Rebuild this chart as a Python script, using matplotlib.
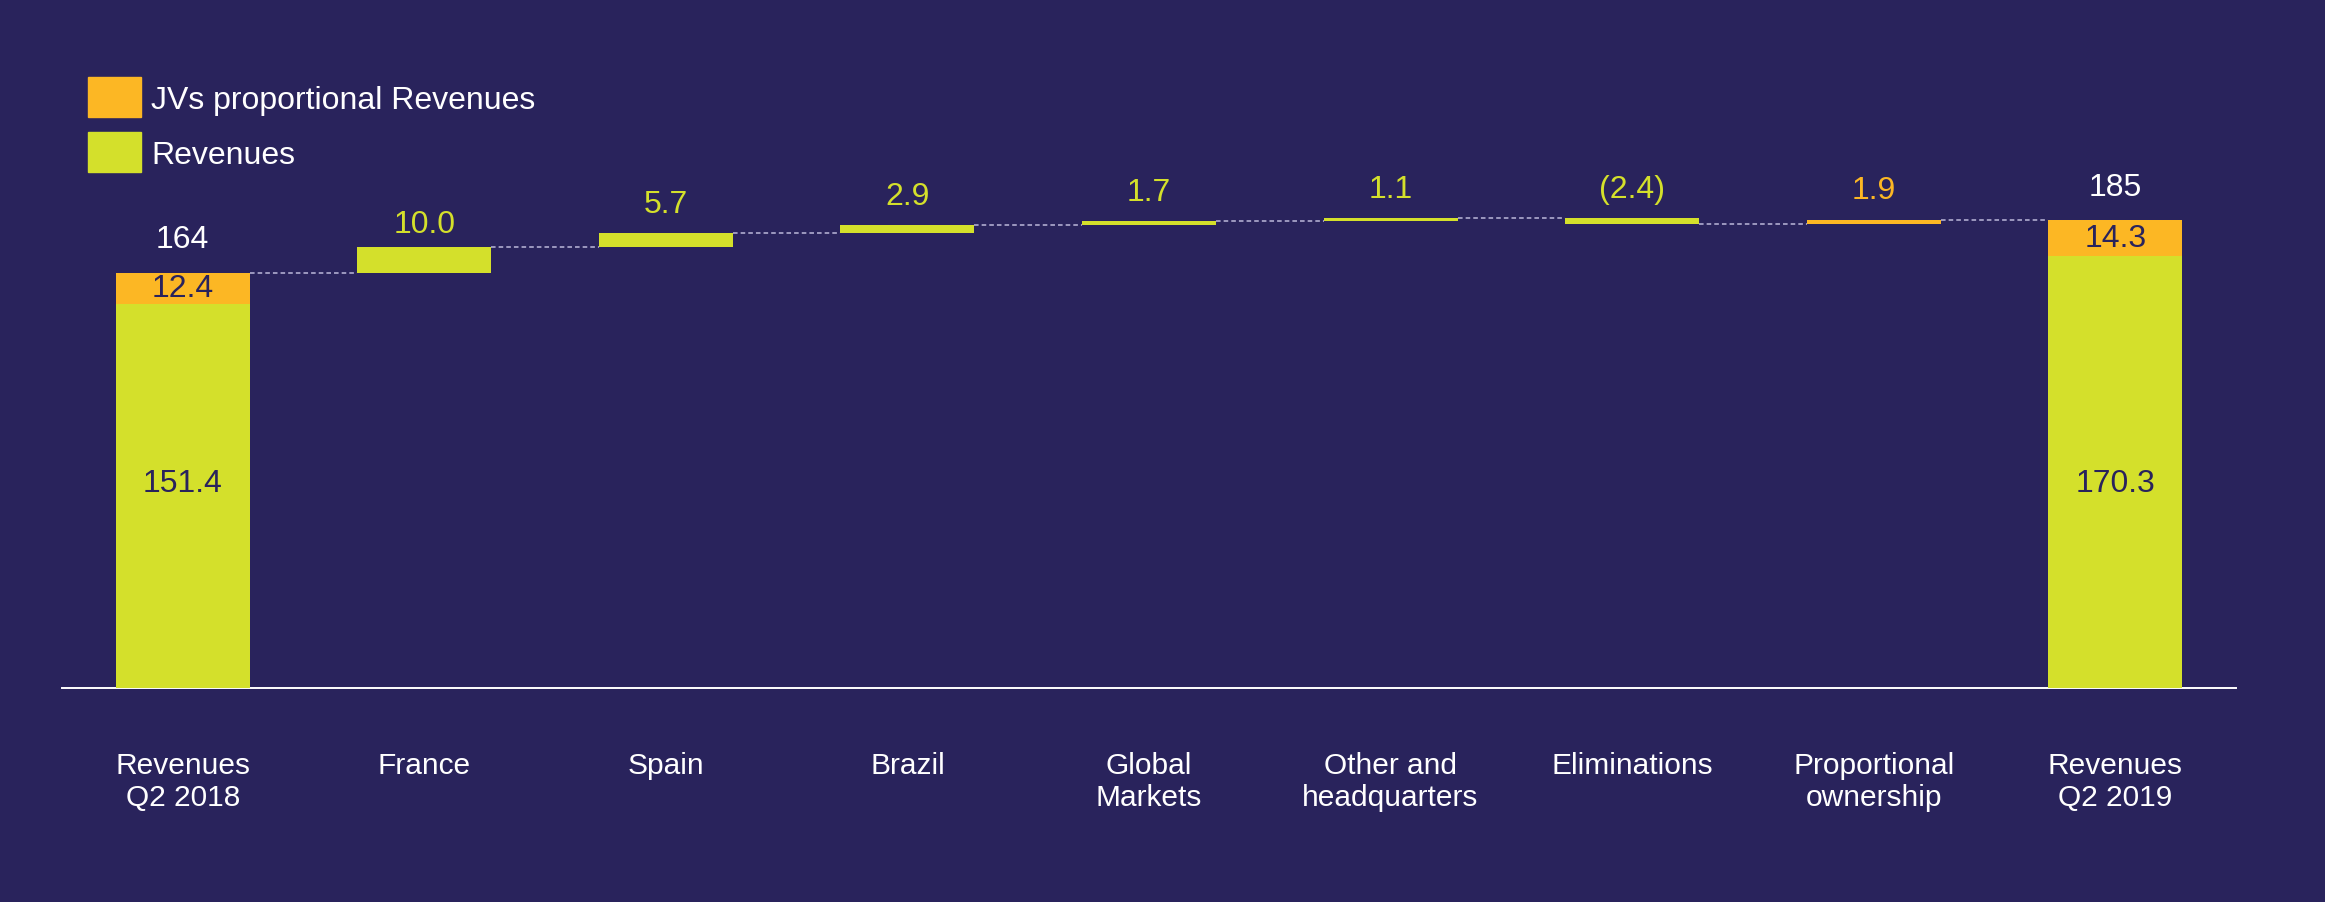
import numpy as np
import matplotlib
matplotlib.use("Agg")
import matplotlib.pyplot as plt
import matplotlib.patches as mpatches

# data
categories = ["Revenues\nQ2 2018", "France", "Spain", "Brazil", "Global\nMarkets",
              "Other and\nheadquarters", "Eliminations", "Proportional\nownership",
              "Revenues\nQ2 2019"]
start_rev = 151.4
start_jv = 12.4
end_rev = 170.3
end_jv = 14.3
total_labels = ["164", "185"]
deltas = [10.0, 5.7, 2.9, 1.7, 1.1, -2.4, 1.9]
delta_labels = ["10.0", "5.7", "2.9", "1.7", "1.1", "(2.4)", "1.9"]
delta_is_jv = [False, False, False, False, False, False, True]

bg = "#29235C"
green = "#D4E02B"
orange = "#FCB724"
dash_col = "#BCB8DA"

plt.rcParams["font.family"] = ["Liberation Sans", "DejaVu Sans"]
plt.rcParams["font.size"] = 23

fig = plt.figure(figsize=(23.25, 9.03), dpi=100, facecolor=bg)
ax = fig.add_axes([62 / 2325, 1 - 689 / 903, (2236 - 62) / 2325, 689 / 903])
ax.set_facecolor(bg)

n = len(categories)
x = np.arange(n)
w = 0.555

start_total = start_rev + start_jv
end_total = end_rev + end_jv

# start / end stacked bars
ax.bar([x[0], x[-1]], [start_rev, end_rev], width=w, color=green, zorder=3)
ax.bar([x[0], x[-1]], [start_jv, end_jv], bottom=[start_rev, end_rev], width=w,
       color=orange, zorder=3)

# floating bars
running = start_total + np.cumsum(deltas)
prev = np.concatenate([[start_total], running[:-1]])
for i, d in enumerate(deltas):
    xi = x[i + 1]
    col = orange if delta_is_jv[i] else green
    ax.bar(xi, abs(d), bottom=min(prev[i], running[i]), width=w, color=col, zorder=3)
    off = 17 if i == 0 else 21
    ax.annotate(delta_labels[i], (xi, max(prev[i], running[i])), xytext=(0, off),
                textcoords="offset points", ha="center", va="center", color=col)

# connectors
levels = np.concatenate([[start_total], running])
for i in range(n - 1):
    ax.plot([x[i] + w / 2, x[i + 1] - w / 2], [levels[i], levels[i]], ls=(0, (3, 2)),
            color=dash_col, lw=1.1, zorder=2)

# labels on totals
for xi, tot, lab in zip([x[0], x[-1]], [start_total, end_total], total_labels):
    ax.annotate(lab, (xi, tot), xytext=(0, 24), textcoords="offset points",
                ha="center", va="center", color="white")
for xi, rev, jv in zip([x[0], x[-1]], [start_rev, end_rev], [start_jv, end_jv]):
    ax.text(xi, rev + jv / 2, f"{jv:.1f}", ha="center", va="center", color=bg)
    ax.text(xi, 81, f"{rev:.1f}", ha="center", va="center", color=bg)

ax.set_xlim(-0.5, n - 0.5)
ax.set_ylim(0, 689 / 2.536)
ax.set_xticks(x)
ax.set_xticklabels(categories, color="white", linespacing=1.2, fontsize=21.5)
ax.tick_params(axis="x", length=0, pad=45)
ax.set_yticks([])
for s in ["top", "left", "right"]:
    ax.spines[s].set_visible(False)
ax.spines["bottom"].set_color("white")
ax.spines["bottom"].set_linewidth(1.4)

handles = [mpatches.Patch(color=orange, label="JVs proportional Revenues"),
           mpatches.Patch(color=green, label="Revenues")]
fig.legend(handles=handles, loc="upper left", bbox_to_anchor=(88 / 2325, 1 - 78 / 903),
           frameon=False, fontsize=23, labelcolor="white", handlelength=1.65,
           handleheight=1.55, handletextpad=0.32, labelspacing=0.47, borderpad=0,
           borderaxespad=0)

fig.savefig("out.png", dpi=100, facecolor=bg)
